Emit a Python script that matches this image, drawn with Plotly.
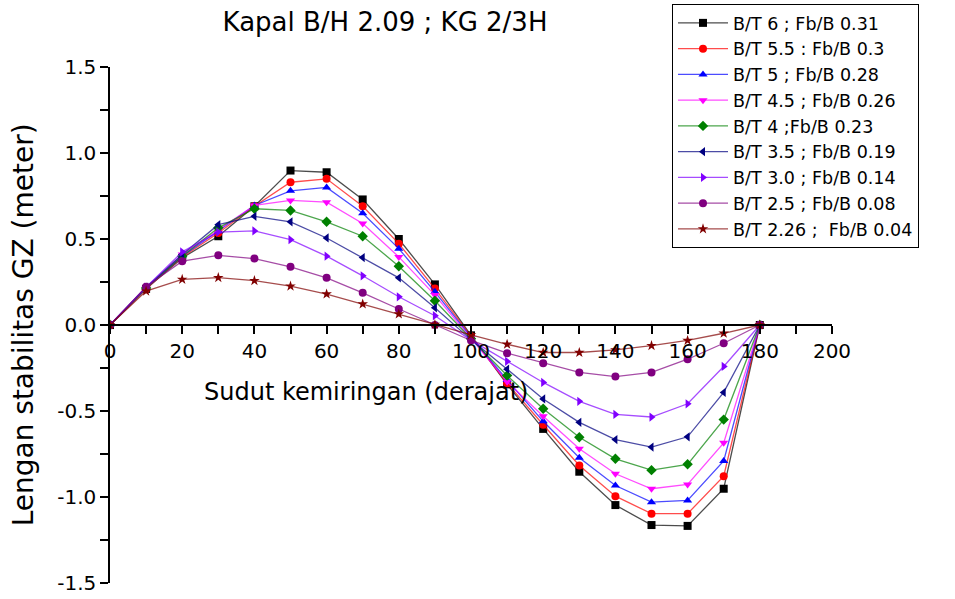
import plotly.graph_objects as go

angles = [0, 10, 20, 30, 40, 50, 60, 70, 80, 90, 100, 110, 120, 130, 140, 150, 160, 170, 180]

series_names = [
    "B/T 6 ; Fb/B 0.31",
    "B/T 5.5 : Fb/B 0.3",
    "B/T 5 ; Fb/B 0.28",
    "B/T 4.5 ; Fb/B 0.26",
    "B/T 4 ;Fb/B 0.23",
    "B/T 3.5 ; Fb/B 0.19",
    "B/T 3.0 ; Fb/B 0.14",
    "B/T 2.5 ; Fb/B 0.08",
    "B/T 2.26 ;  Fb/B 0.04",
]

gz_bt60 = [0, 0.21, 0.39, 0.516, 0.69, 0.898, 0.888, 0.73, 0.50, 0.236, -0.06, -0.345, -0.604, -0.853, -1.047, -1.163, -1.168, -0.952, 0]
gz_bt55 = [0, 0.21, 0.395, 0.535, 0.69, 0.83, 0.85, 0.69, 0.473, 0.212, -0.065, -0.338, -0.58, -0.817, -0.995, -1.097, -1.097, -0.879, 0]
gz_bt50 = [0, 0.215, 0.40, 0.545, 0.695, 0.78, 0.80, 0.65, 0.444, 0.193, -0.07, -0.32, -0.56, -0.772, -0.933, -1.03, -1.02, -0.79, 0]
gz_bt45 = [0, 0.215, 0.41, 0.55, 0.695, 0.724, 0.714, 0.59, 0.396, 0.174, -0.075, -0.33, -0.53, -0.72, -0.865, -0.952, -0.927, -0.685, 0]
gz_bt40 = [0, 0.215, 0.40, 0.565, 0.676, 0.666, 0.60, 0.516, 0.342, 0.141, -0.08, -0.294, -0.487, -0.653, -0.778, -0.844, -0.81, -0.55, 0]
gz_bt35 = [0, 0.22, 0.41, 0.583, 0.632, 0.60, 0.506, 0.392, 0.274, 0.10, -0.085, -0.257, -0.43, -0.566, -0.666, -0.71, -0.65, -0.392, 0]
gz_bt30 = [0, 0.22, 0.425, 0.54, 0.547, 0.496, 0.40, 0.286, 0.164, 0.054, -0.088, -0.212, -0.334, -0.444, -0.52, -0.535, -0.458, -0.241, 0]
gz_bt25 = [0, 0.222, 0.371, 0.405, 0.386, 0.338, 0.274, 0.187, 0.093, 0.0, -0.09, -0.164, -0.222, -0.276, -0.30, -0.276, -0.199, -0.106, 0]
gz_bt226 = [0, 0.197, 0.265, 0.275, 0.258, 0.226, 0.18, 0.122, 0.064, 0.003, -0.058, -0.112, -0.16, -0.16, -0.145, -0.12, -0.09, -0.048, 0]

all_series = [gz_bt60, gz_bt55, gz_bt50, gz_bt45, gz_bt40, gz_bt35, gz_bt30, gz_bt25, gz_bt226]
colors = ["#000000", "#FF0000", "#0000FF", "#FF00FF", "#008000", "#000080", "#8000FF", "#800080", "#800000"]
line_colors = ["rgba(0,0,0,0.7)", "rgba(255,0,0,0.7)", "rgba(0,0,255,0.7)", "rgba(255,0,255,0.7)",
               "rgba(0,128,0,0.7)", "rgba(0,0,128,0.7)", "rgba(128,0,255,0.7)", "rgba(128,0,128,0.7)",
               "rgba(128,0,0,0.7)"]
symbols = ["square", "circle", "triangle-up", "triangle-down", "diamond", "triangle-left", "triangle-right", "circle", "star"]

x_tickvals = [0, 20, 40, 60, 80, 100, 120, 140, 160, 180, 200]
x_ticktext = ["0", "20", "40", "60", "80", "100", "120", "140", "160", "180", "200"]
y_tickvals = [-1.5, -1.0, -0.5, 0.0, 0.5, 1.0, 1.5]
y_ticktext = ["-1.5", "-1.0", "-0.5", "0.0", "0.5", "1.0", "1.5"]

FONT = "DejaVu Sans, Arial, sans-serif"

fig = go.Figure()
for name, vals, c, lc, s in zip(series_names, all_series, colors, line_colors, symbols):
    fig.add_trace(go.Scatter(
        x=angles, y=vals, name=name, mode="lines+markers",
        line=dict(color=lc, width=1.3),
        marker=dict(symbol=s, size=8, color=c, line=dict(width=0)),
    ))

fig.update_layout(
    width=955, height=599,
    margin=dict(l=110, r=123, t=67, b=16, autoexpand=False),
    paper_bgcolor="white", plot_bgcolor="white",
    font=dict(family=FONT, color="black"),
    showlegend=True,
    title=dict(text="Kapal B/H 2.09 ; KG 2/3H", x=385/955, xanchor="center",
               y=1 - 22/599, yanchor="middle", font=dict(size=26, family=FONT, color="black")),
    legend=dict(
        x=(672 - 110) / 722, xref="paper", y=(583 - 4) / 516, yref="paper",
        xanchor="left", yanchor="top",
        bgcolor="white", bordercolor="black", borderwidth=1,
        font=dict(size=17.5, family=FONT, color="black"),
        itemwidth=50, tracegroupgap=0,
    ),
    xaxis=dict(
        range=[0, 200], tickvals=x_tickvals, ticktext=x_ticktext,
        showline=True, linecolor="black", linewidth=1.5,
        anchor="free", position=0.5,
        ticks="outside", ticklen=8, tickwidth=1.5, tickcolor="black",
        minor=dict(dtick=10, tick0=0, ticks="outside", ticklen=8, tickwidth=1.5, tickcolor="black"),
        showgrid=False, zeroline=False,
        tickfont=dict(size=20, family=FONT, color="black"),
    ),
    yaxis=dict(
        range=[-1.5, 1.5], tickvals=y_tickvals, ticktext=y_ticktext,
        showline=True, linecolor="black", linewidth=1.5,
        ticks="outside", ticklen=8, tickwidth=1.5, tickcolor="black",
        minor=dict(dtick=0.25, tick0=0, ticks="outside", ticklen=8, tickwidth=1.5, tickcolor="black"),
        showgrid=False, zeroline=False,
        tickfont=dict(size=20, family=FONT, color="black"),
    ),
    annotations=[
        dict(text="Sudut kemiringan (derajat)", x=71, y=-0.39, xref="x", yref="y",
             showarrow=False, font=dict(size=24, family=FONT, color="black")),
        dict(text="Lengan stabilitas GZ (meter)", x=-0.12, y=0.5, xref="paper", yref="paper",
             textangle=-90, showarrow=False, xanchor="center", yanchor="middle",
             font=dict(size=28, family=FONT, color="black")),
    ],
)

fig.write_html("out.html")
